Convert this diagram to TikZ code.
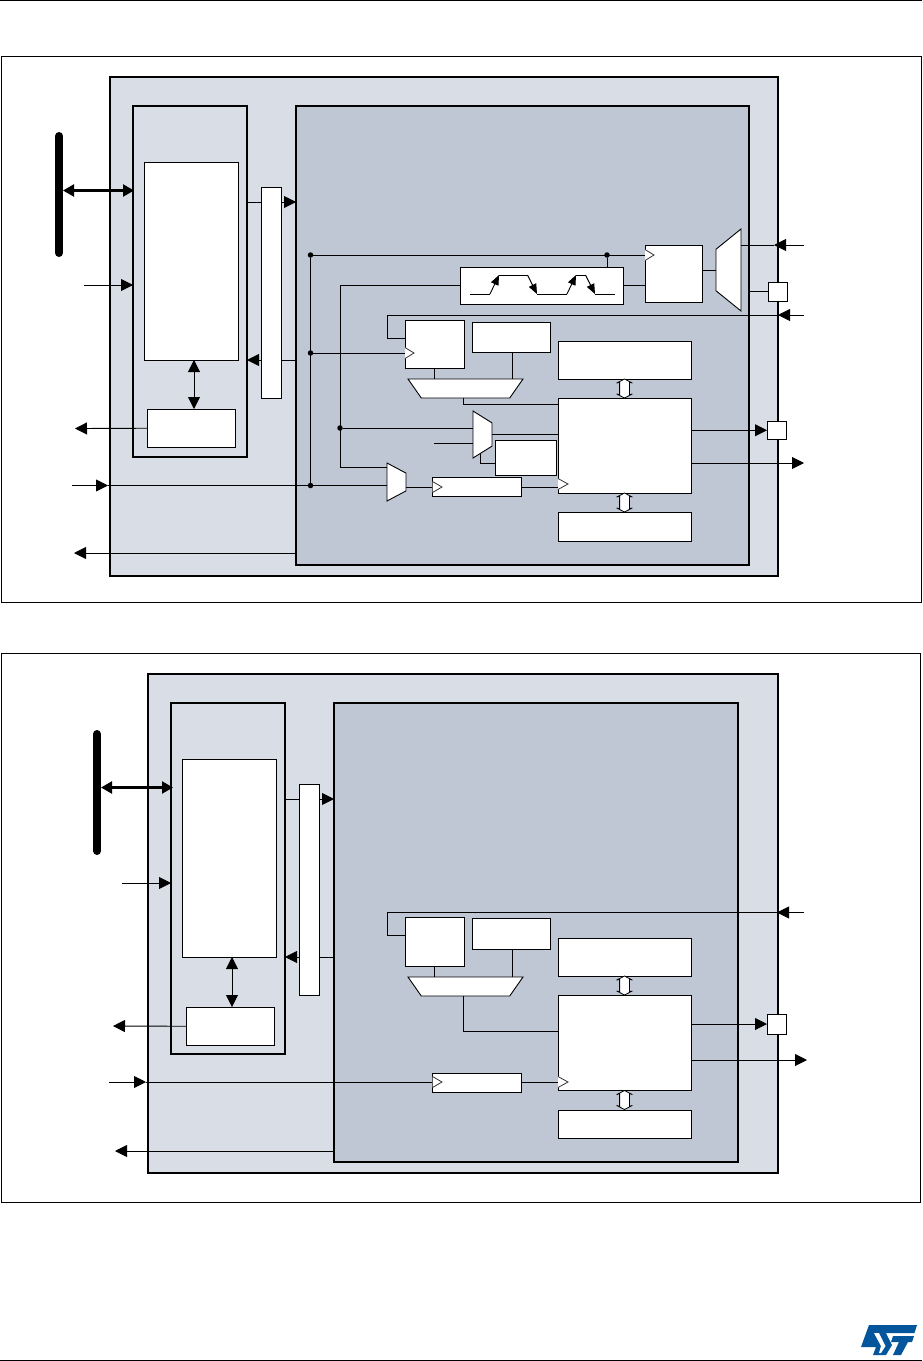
\documentclass[tikz,border=0pt]{standalone}
\usetikzlibrary{positioning, arrows.meta, calc, shapes.geometric, shapes.arrows}

\definecolor{paleblock}{HTML}{D9DEE6}
\definecolor{darkblock}{HTML}{BFC7D5}
\definecolor{stblue}{HTML}{03569B}

\begin{document}
\begin{tikzpicture}[
  x=1pt, y=-1pt,
  inner sep=0pt, outer sep=0pt,
  frame/.style={draw=black, line width=0.9pt, anchor=north west},
  outerblk/.style={draw=black, line width=1.8pt, fill=paleblock, anchor=north west},
  innerblk/.style={draw=black, line width=1.8pt, fill=darkblock, anchor=north west},
  blk/.style={draw=black, line width=0.9pt, fill=white, anchor=north west},
  mux/.style={draw=black, line width=0.9pt, fill=white, trapezium, trapezium stretches body=true, inner xsep=1pt},
  dbl/.style={draw=black, line width=0.8pt, fill=white, double arrow, rotate=90, inner xsep=0pt, inner ysep=4.5pt,
    minimum height=19pt, minimum width=15pt, double arrow head extend=3pt, double arrow tip angle=125, double arrow head indent=1pt},
  wire/.style={draw=black, line width=0.9pt},
  sig/.style={wire, -{Triangle[length=12pt, width=12pt]}},
  sigb/.style={wire, {Triangle[length=12pt, width=12pt]}-{Triangle[length=12pt, width=12pt]}},
  bussig/.style={wire, line width=2.2pt, {Triangle[length=11pt, width=12pt]}-{Triangle[length=11pt, width=12pt]}},
  busbar/.style={line width=8pt, line cap=round},
  dotn/.style={circle, fill=black, minimum size=5.5pt},
  clk/.style={draw=black!80, line width=0.8pt, fill=white},
  wave/.style={wire, -{Triangle[length=10pt, width=8pt]}},
]
\useasboundingbox (0,0) rectangle (922,1361);

% --- page rules
\coordinate (tl) at (0,0.5); \coordinate (tr) at (922,0.5);
\coordinate (bl) at (0,1360); \coordinate (br) at (922,1360);
\draw[wire] (tl) -- (tr);
\draw[wire] (bl) -- (br);

% --- first figure: frame and the three large blocks
\node[frame, minimum width=920, minimum height=546] (frameA) at (1,56) {};
\node[outerblk, minimum width=668, minimum height=499] (outerA) at (110,77) {};
\node[outerblk, minimum width=114, minimum height=351] (leftA) at (133,106) {};
\node[innerblk, minimum width=453, minimum height=459] (rightA) at (296,106) {};

% --- first figure: left part
\node[blk, minimum width=94, minimum height=198] (ramA) at (144.5,162) {};
\node[blk, minimum width=88, minimum height=38.5] (ctlA) at (147.5,409) {};
\coordinate (barAt) at (59,136); \coordinate (barAb) at (59,253);
\draw[busbar] (barAt) -- (barAb);
\coordinate (barAm) at (63,190.5); \coordinate (busAin) at (134,190.5);
\draw[bussig] (barAm) -- (busAin);
\coordinate (clkAin) at (84,285);
\draw[sig] (clkAin) -- (leftA.west |- clkAin);
\coordinate (ctlAout) at (75,428.5);
\draw[sig] (ctlA.west) -- (ctlAout);
\draw[sigb] (ctlA.north -| 194,0) -- (ramA.south -| 194,0);
\coordinate (wrAl) at (247,202); \coordinate (wrAr) at (296,202);
\draw[sig] (wrAl) -- (wrAr);
\coordinate (rdAl) at (247,360); \coordinate (rdAr) at (296,360);
\draw[sig] (rdAr) -- (rdAl);
\node[blk, minimum width=20, minimum height=211] (apbA) at (261,187) {};
\coordinate (intAout) at (74,553); \coordinate (intAr) at (296,553);
\draw[sig] (intAr) -- (intAout);

% --- first figure: clock wires
\node[dotn] (dotA1) at (310.5,255) {};
\node[dotn] (dotA2) at (310.5,353) {};
\node[dotn] (dotA3) at (310.5,485.5) {};
\node[dotn] (dotA4) at (607,255) {};
\node[dotn] (dotA5) at (340,428) {};
\draw[wire] (dotA1) -- (dotA3);

% --- first figure: prescaler, reload, compare
\node[blk, minimum width=57, minimum height=57] (cntA) at (645,245) {};
\node[blk, minimum width=163, minimum height=37] (waveA) at (460,267) {};
\node[mux, rotate=90, inner ysep=12.5pt, minimum width=82, trapezium left angle=51, trapezium right angle=51] (muxA1) at (728.5,270) {};
\node[blk, minimum width=59, minimum height=47.5] (pscA) at (405,320.5) {};
\node[blk, minimum width=78, minimum height=30] (arrA) at (472,322) {};
\node[mux, rotate=180, inner ysep=9.5pt, minimum width=115, trapezium left angle=55, trapezium right angle=55] (muxA2) at (465.5,388.5) {};
\node[blk, minimum width=133, minimum height=38] (regA) at (558,341) {};
\node[blk, minimum width=133, minimum height=95] (coreA) at (558,398) {};
\node[blk, minimum width=133, minimum height=29] (fifoA) at (558,512) {};
\node[dbl] (dblA1) at ($(regA.south)!.5!(coreA.north)$) {};
\node[dbl] (dblA2) at ($(coreA.south)!.5!(fifoA.north)$) {};
\node[mux, rotate=-90, inner ysep=9.5pt, minimum width=47, trapezium left angle=58, trapezium right angle=58] (muxA3) at (482.5,434.5) {};
\node[blk, minimum width=61, minimum height=35] (tirA) at (495,440) {};
\node[mux, rotate=-90, inner ysep=9.5pt, minimum width=38, trapezium left angle=62, trapezium right angle=62] (muxA4) at (396.5,482) {};
\node[blk, minimum width=89, minimum height=19] (divA) at (432,477.5) {};
\node[blk, minimum width=19.5, minimum height=19] (padA1) at (768,282) {};
\node[blk, minimum width=19.5, minimum height=18.5] (padA2) at (767,421) {};

\draw[wire] (dotA1) -- (cntA.west |- dotA1);
\draw[wire] (dotA4) -- (dotA4 |- waveA.north);
\draw[wire] (waveA.east |- 0,285) -- (cntA.west |- 0,285);
\draw[wire] (cntA.east |- muxA1.north) -- (muxA1.north);
\coordinate (kAc) at (340,285); \coordinate (kAd) at (340,467.5);
\draw[wire] (waveA.west |- kAc) -- (kAc) -- (kAd) -- (kAd -| muxA4.south);
\draw[wire] (dotA5) -- (dotA5 -| muxA3.south);
\coordinate (inA3) at (434,443);
\draw[wire] (inA3) -- (inA3 -| muxA3.south);
\draw[wire] (muxA3.north) -- (coreA.west |- muxA3.north);
\draw[wire] (480,454) |- (tirA.west |- 0,463);
\draw[wire] (dotA2) -- (pscA.west |- dotA2);
\coordinate (extA) at (804,315); \coordinate (extAk) at (387.5,315); \coordinate (extAd) at (387.5,338);
\draw[wire] (extA) -- (extAk) -- (extAd) -- (pscA.west |- extAd);
\coordinate (extAh) at (778,315);
\draw[sig] (extA) -- (extAh);
\draw[wire] (pscA.south -| 434.5,0) -- (434.5,379);
\draw[wire] (arrA.south -| 512,0) -- (512,379);
\draw[wire] (463.5,398) -- (463.5,404.5) -- (coreA.west |- 0,404.5);
\draw[wire] (muxA4.north |- divA.west) -- (divA.west);
\draw[wire] (divA.east) -- (coreA.west |- divA.east);

% --- first figure: outside signals
\coordinate (clkAl) at (72,485.5); \coordinate (clkAh) at (108,485.5);
\draw[sig] (clkAl) -- (clkAh);
\draw[wire] (clkAh) -- (dotA3) -- (dotA3 -| muxA4.south);
\coordinate (capA) at (804,245); \coordinate (capAh) at (774,245);
\draw[sig] (capA) -- (capAh);
\draw[wire] (capAh) -- (741,245);
\draw[wire] (rightA.east |- padA1.west) -- (padA1.west);
\draw[sig] (coreA.east |- padA2.west) -- (padA2.west);
\coordinate (oscA) at (804,463);
\draw[sig] (coreA.east |- oscA) -- (oscA);

% --- first figure: clock markers
\draw[clk] (645,249.5) -- (654,255) -- (645,260.5);
\draw[clk] (405,347.5) -- (414,353) -- (405,358.5);
\draw[clk] (432.5,481.5) -- (442,487) -- (432.5,492.5);
\draw[clk] (558,478.5) -- (568,484) -- (558,489.5);

% --- first figure: waveform in the box
\draw[wire] (470,294) -- (490,294);
\draw[wave] (490,294) -- (499,275);
\draw[wire] (499,275) -- (527.5,275);
\draw[wave] (527.5,275) -- (537,294);
\draw[wire] (537,294) -- (567,294);
\draw[wave] (567,294) -- (576,275);
\draw[wire] (576,275) -- (585.5,275);
\draw[wave] (585.5,275) -- (595,294);
\draw[wire] (595,294) -- (614.5,294);

% --- second figure: frame and the three large blocks
\node[frame, minimum width=919, minimum height=549] (frameB) at (1,653) {};
\node[outerblk, minimum width=630, minimum height=499] (outerB) at (148,674) {};
\node[outerblk, minimum width=114, minimum height=351] (leftB) at (171,703) {};
\node[innerblk, minimum width=404, minimum height=459] (rightB) at (334,703) {};

% --- second figure: left part
\node[blk, minimum width=94, minimum height=198] (ramB) at (182.5,759) {};
\node[blk, minimum width=88, minimum height=38.5] (ctlB) at (186,1007) {};
\coordinate (barBt) at (97,734); \coordinate (barBb) at (97,851);
\draw[busbar] (barBt) -- (barBb);
\coordinate (barBm) at (101,787.5); \coordinate (busBin) at (173,787.5);
\draw[bussig] (barBm) -- (busBin);
\coordinate (clkBin) at (122,883);
\draw[sig] (clkBin) -- (leftB.west |- clkBin);
\coordinate (ctlBout) at (113,1026);
\draw[sig] (ctlB.west) -- (ctlBout);
\draw[sigb] (ctlB.north -| 232,0) -- (ramB.south -| 232,0);
\coordinate (wrBl) at (285,799); \coordinate (wrBr) at (334,799);
\draw[sig] (wrBl) -- (wrBr);
\coordinate (rdBl) at (285,957); \coordinate (rdBr) at (334,957);
\draw[sig] (rdBr) -- (rdBl);
\node[blk, minimum width=20, minimum height=211] (apbB) at (299,784) {};
\coordinate (intBout) at (115,1151); \coordinate (intBr) at (334,1151);
\draw[sig] (intBr) -- (intBout);

% --- second figure: right part
\node[blk, minimum width=59, minimum height=49] (pscB) at (405,917) {};
\node[blk, minimum width=78, minimum height=31] (arrB) at (472,918) {};
\node[mux, rotate=180, inner ysep=9.5pt, minimum width=115, trapezium left angle=55, trapezium right angle=55] (muxB2) at (465.5,986.5) {};
\node[blk, minimum width=133, minimum height=38] (regB) at (558,938) {};
\node[blk, minimum width=133, minimum height=95] (coreB) at (558,995) {};
\node[blk, minimum width=133, minimum height=28] (fifoB) at (558,1110) {};
\node[dbl] (dblB1) at ($(regB.south)!.5!(coreB.north)$) {};
\node[dbl] (dblB2) at ($(coreB.south)!.5!(fifoB.north)$) {};
\node[blk, minimum width=89, minimum height=19] (divB) at (432,1073) {};
\node[blk, minimum width=19.5, minimum height=20] (padB) at (767,1014) {};

\coordinate (extB) at (804,912.5); \coordinate (extBk) at (387.5,912.5); \coordinate (extBd) at (387.5,935);
\draw[wire] (extB) -- (extBk) -- (extBd) -- (pscB.west |- extBd);
\coordinate (extBh) at (777,912.5);
\draw[sig] (extB) -- (extBh);
\draw[wire] (pscB.south -| 434.5,0) -- (434.5,977);
\draw[wire] (arrB.south -| 512,0) -- (512,977);
\draw[wire] (463.5,996) -- (463.5,1031) -- (coreB.west |- 0,1031);
\coordinate (clkBl) at (109,1082); \coordinate (clkBh) at (146,1082);
\draw[sig] (clkBl) -- (clkBh);
\draw[wire] (clkBh) -- (divB.west |- clkBh);
\draw[wire] (divB.east |- clkBh) -- (coreB.west |- clkBh);
\draw[sig] (coreB.east |- padB.west) -- (padB.west);
\coordinate (oscB) at (807,1060);
\draw[sig] (coreB.east |- oscB) -- (oscB);

% --- second figure: clock markers
\draw[clk] (432.5,1076.5) -- (442,1082) -- (432.5,1087.5);
\draw[clk] (558,1076.5) -- (568,1082) -- (558,1087.5);

% --- logo
\fill[stblue] (869,1325) -- (917,1325) -- (914.5,1333) -- (886,1333) -- (892,1345) -- (886,1355) -- (873,1355) -- (876,1347) -- (861,1347) -- cycle;
\fill[white] (874,1333) -- (879,1333) -- (885.5,1346) -- (881,1353) -- (879,1353) -- (881,1346) -- cycle;
\fill[stblue] (893,1336) -- (914,1336) -- (912,1342) -- (908,1342) -- (901,1355) -- (893,1355) -- (899,1342) -- (891,1342) -- cycle;
\end{tikzpicture}
\end{document}
